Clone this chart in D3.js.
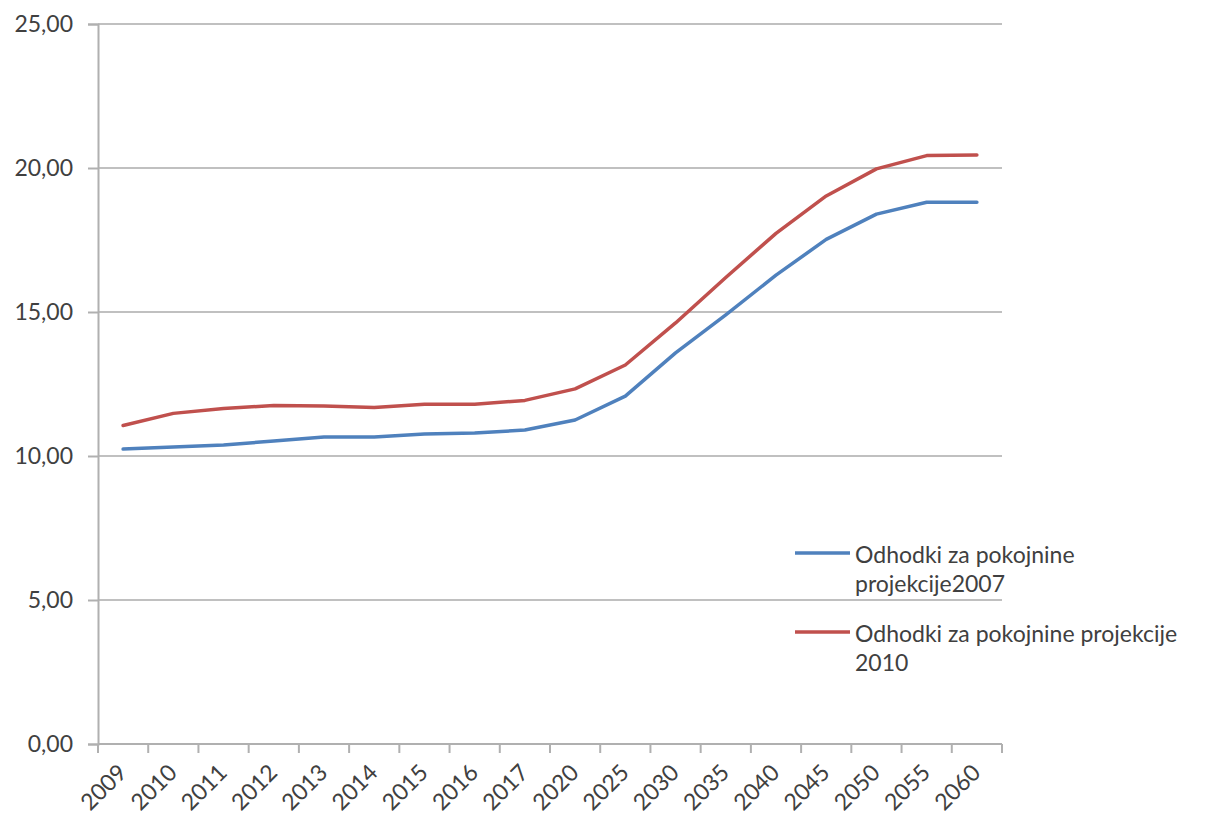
<!DOCTYPE html>
<html>
<head>
<meta charset="utf-8">
<script src="https://cdn.jsdelivr.net/npm/d3@7"></script>
<style>
  body { margin: 0; background: #fff; }
  text { font-family: Lato, "Noto Sans", sans-serif; fill: #404040; }
</style>
</head>
<body>
<svg></svg>
<script>
let years = ["2009","2010","2011","2012","2013","2014","2015","2016","2017","2020","2025","2030","2035","2040","2045","2050","2055","2060"]
let proj2007 = [10.24,10.31,10.38,10.52,10.66,10.66,10.76,10.80,10.90,11.25,12.08,13.58,14.90,16.28,17.52,18.40,18.81,18.81]
let proj2010 = [11.06,11.48,11.65,11.75,11.74,11.68,11.80,11.80,11.93,12.33,13.16,14.62,16.20,17.73,19.03,19.97,20.43,20.45]
let yTicks = [0,5,10,15,20,25]
let seriesNames = [
    ["Odhodki za pokojnine", "projekcije2007"],
    ["Odhodki za pokojnine projekcije", "2010"]
]
let colors = ["#4F81BD", "#C0504D"]

let width = 1205
let height = 820
let plotLeft = 98
let plotRight = 1002
let plotTop = 24
let plotBottom = 744

let svg = d3.select("svg").attr("width", width).attr("height", height)

let xScale = d3.scaleBand().domain(years).range([plotLeft, plotRight])
let yScale = d3.scaleLinear().domain([0, 25]).range([plotBottom, plotTop])

// gridlines
svg.append("g")
    .selectAll("line")
    .data(yTicks.filter(d => d > 0))
    .enter()
    .append("line")
    .attr("x1", plotLeft)
    .attr("x2", plotRight)
    .attr("y1", d => yScale(d))
    .attr("y2", d => yScale(d))
    .attr("stroke", "#c0c0c0")
    .attr("stroke-width", 2)

// y axis
let yAxis = d3.axisLeft(yScale).tickValues(yTicks).tickSize(10).tickPadding(15)
    .tickFormat(d => d3.format(".2f")(d).replace(".", ","))
let gy = svg.append("g").attr("transform", "translate(" + plotLeft + ",0)").call(yAxis)
gy.select(".domain").attr("stroke", "#b0b0b0").attr("stroke-width", 2)
gy.selectAll(".tick line").attr("stroke", "#b0b0b0").attr("stroke-width", 2)
gy.selectAll(".tick text").style("font-size", "23px").attr("fill", "#404040").attr("font-family", null)

// x axis, ticks sit between categories
let gx = svg.append("g")
gx.append("line")
    .attr("x1", plotLeft).attr("x2", plotRight)
    .attr("y1", plotBottom).attr("y2", plotBottom)
    .attr("stroke", "#b0b0b0").attr("stroke-width", 2)
let bounds = years.map(d => xScale(d)).concat([plotRight])
gx.selectAll(".xt")
    .data(bounds)
    .enter()
    .append("line")
    .attr("x1", d => d).attr("x2", d => d)
    .attr("y1", plotBottom).attr("y2", plotBottom + 9)
    .attr("stroke", "#b0b0b0").attr("stroke-width", 2)
gx.selectAll("text")
    .data(years)
    .enter()
    .append("text")
    .attr("text-anchor", "end")
    .attr("transform", d => "translate(" + (xScale(d) + xScale.bandwidth() / 2 + 5) + "," + 774 + ") rotate(-45)")
    .style("font-size", "23px")
    .text(d => d)

// lines
let line = d3.line()
    .x((d, i) => xScale(years[i]) + xScale.bandwidth() / 2)
    .y(d => yScale(d))

;[proj2007, proj2010].forEach((s, i) => {
    svg.append("path")
        .datum(s)
        .attr("d", line)
        .attr("fill", "none")
        .attr("stroke", colors[i])
        .attr("stroke-width", 3.5)
        .attr("stroke-linejoin", "round")
        .attr("stroke-linecap", "round")
})

// legend
let legend = svg.append("g")
let legendY = [553, 632]
seriesNames.forEach((name, i) => {
    legend.append("line")
        .attr("x1", 795).attr("x2", 850)
        .attr("y1", legendY[i]).attr("y2", legendY[i])
        .attr("stroke", colors[i])
        .attr("stroke-width", 3.5)
    let t = legend.append("text")
        .attr("x", 855)
        .attr("y", legendY[i] + 10)
        .style("font-size", "23px")
    name.forEach((part, j) => {
        t.append("tspan")
            .attr("x", 855)
            .attr("dy", j == 0 ? 0 : 29)
            .text(part)
    })
})
</script>
</body>
</html>
